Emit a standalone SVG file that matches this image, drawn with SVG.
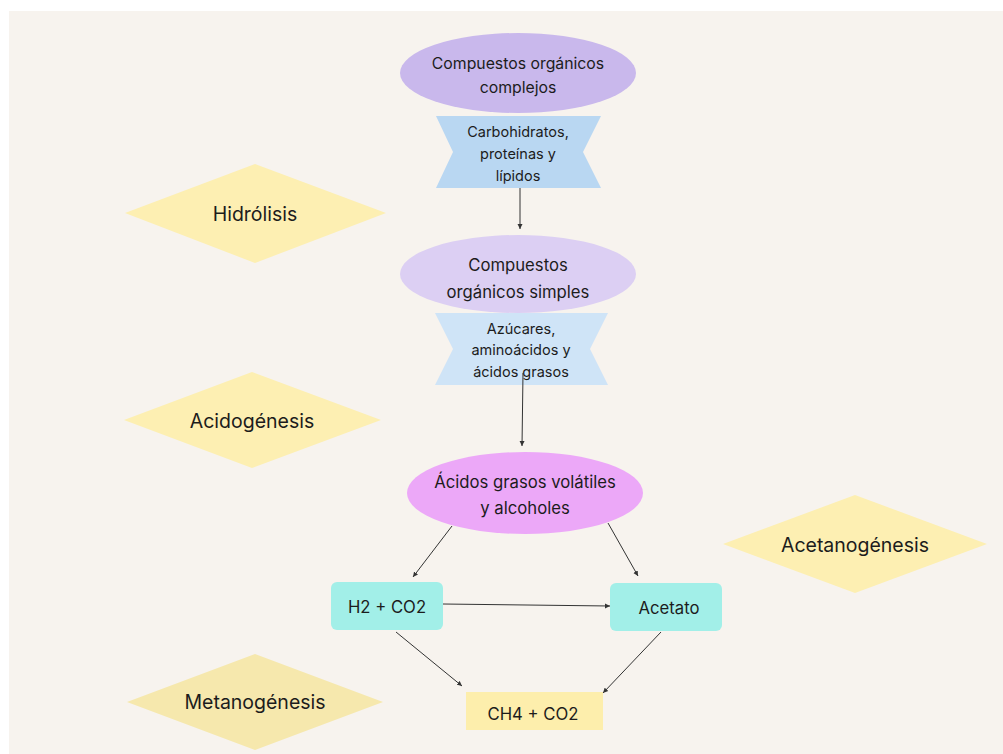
<svg xmlns="http://www.w3.org/2000/svg" width="1003" height="754" viewBox="0 0 1003 754">
<style>
text{font-family:Inter,"Noto Sans","Liberation Sans",sans-serif;fill:#1c1c1c;text-anchor:middle;dominant-baseline:central}
.conn line{stroke:#333;stroke-width:1;marker-end:url(#ah)}
.dia{fill:#fdefb2}
.t19{font-size:19.5px}
.t17{font-size:16.7px}
.t16{font-size:15.8px}
.t14{font-size:14.5px}
</style>
<defs>
<marker id="ah" markerWidth="6" markerHeight="6" refX="5" refY="3" orient="auto" markerUnits="userSpaceOnUse">
<path d="M0,0.5 L5,3 L0,5.5 Z" fill="#333"/>
</marker>
</defs>
<rect x="9" y="11" width="994" height="743" fill="#f7f3ee"/>

<g id="hidrolisis">
<polygon class="dia" points="125,213 255,164 386,213 255,263"/>
<text class="t19" x="255" y="214">Hidrólisis</text>
</g>
<g id="acidogenesis">
<polygon class="dia" points="124,420 252,372 381,420 252,468"/>
<text class="t19" x="252" y="421">Acidogénesis</text>
</g>
<g id="acetanogenesis">
<polygon class="dia" points="723,544 855,495 987,544 855,593"/>
<text class="t19" x="855" y="545">Acetanogénesis</text>
</g>
<g id="metanogenesis">
<polygon points="127,702 255,654 383,702 255,750" fill="#f6e8ad"/>
<text class="t19" x="255" y="702">Metanogénesis</text>
</g>

<g id="complejos">
<ellipse cx="518" cy="73" rx="118" ry="40" fill="#c9b8ec"/>
<text class="t16" x="518" y="63">Compuestos orgánicos</text>
<text class="t16" x="518" y="87">complejos</text>
</g>
<g id="carbohidratos">
<polygon points="436,116 601,116 583,152 601,188 436,188 453,152" fill="#b9d7f2"/>
<text class="t14" x="518" y="131">Carbohidratos,</text>
<text class="t14" x="518" y="153">proteínas y</text>
<text class="t14" x="518" y="175">lípidos</text>
</g>
<g id="simples">
<ellipse cx="518" cy="274" rx="118" ry="39" fill="#dccff3"/>
<text class="t17" x="518" y="265">Compuestos</text>
<text class="t17" x="518" y="292">orgánicos simples</text>
</g>
<g id="azucares">
<polygon points="435,313 608,313 590,349 608,385 435,385 453,349" fill="#cfe4f7"/>
<text class="t14" x="521" y="328">Azúcares,</text>
<text class="t14" x="521" y="349">aminoácidos y</text>
<text class="t14" x="521" y="371">ácidos grasos</text>
</g>
<g id="acidos">
<ellipse cx="525" cy="493" rx="118" ry="41" fill="#eca8f8"/>
<text class="t17" x="525" y="482">Ácidos grasos volátiles</text>
<text class="t17" x="525" y="508">y alcoholes</text>
</g>
<g id="h2co2">
<rect x="331" y="582" width="112" height="48" rx="6" fill="#a2efe8"/>
<text class="t17" x="387" y="607">H2 + CO2</text>
</g>
<g id="acetato">
<rect x="610" y="583" width="112" height="48" rx="6" fill="#a2efe8"/>
<text class="t17" x="669" y="608">Acetato</text>
</g>
<g id="ch4co2">
<rect x="466" y="692" width="137" height="38" fill="#fdeeac"/>
<text class="t17" x="533" y="714">CH4 + CO2</text>
</g>

<g id="connectors" class="conn">
<line x1="520" y1="188" x2="520" y2="229"/>
<line x1="523" y1="373" x2="522" y2="446"/>
<line x1="452" y1="526" x2="413" y2="577"/>
<line x1="608" y1="523" x2="638" y2="576"/>
<line x1="443" y1="604" x2="610" y2="606"/>
<line x1="396" y1="632" x2="462" y2="686"/>
<line x1="661" y1="632" x2="603" y2="693"/>
</g>
</svg>
